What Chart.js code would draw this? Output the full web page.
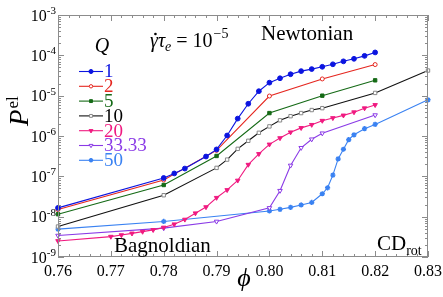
<!DOCTYPE html>
<html>
<head>
<meta charset="utf-8">
<script src="https://cdn.jsdelivr.net/npm/chart.js@4"></script>
<style>
  html, body { margin: 0; padding: 0; background: #fff; }
  #wrap { width: 443px; height: 297px; }
</style>
</head>
<body>
<div id="wrap"><canvas id="chart" width="443" height="297"></canvas></div>
<script>
// Q labels and colours
const qLabels = ['1', '2', '5', '10', '20', '33.33', '50'];
const qColors = ['#0b14e0', '#e5261f', '#156a16', '#111111', '#f01a80', '#8a3ae6', '#3a82f2'];

// phi values and P^el per series
const phi1 = [0.76, 0.78, 0.782, 0.784, 0.788, 0.79, 0.792, 0.794, 0.796, 0.798, 0.80, 0.802, 0.804, 0.806, 0.808, 0.81, 0.812, 0.814, 0.816, 0.818, 0.82];
const p1 = [1.65e-8, 9.1e-8, 1.18e-7, 1.56e-7, 3.1e-7, 4.65e-7, 1.03e-6, 2.7e-6, 6.3e-6, 1.29e-5, 2.1e-5, 2.7e-5, 3.4e-5, 4.06e-5, 4.56e-5, 5.2e-5, 6.0e-5, 7.1e-5, 8.2e-5, 9.7e-5, 1.18e-4];

const phi2 = [0.76, 0.78, 0.79, 0.80, 0.81, 0.82];
const p2 = [1.5e-8, 8.1e-8, 4.4e-7, 9.8e-6, 2.6e-5, 5.9e-5];

const phi5 = [0.76, 0.78, 0.79, 0.80, 0.81, 0.82];
const p5 = [1.15e-8, 6.1e-8, 3.2e-7, 3.7e-6, 1.0e-5, 2.4e-5];

const phi10 = [0.76, 0.78, 0.79, 0.792, 0.794, 0.796, 0.798, 0.80, 0.802, 0.804, 0.806, 0.808, 0.81, 0.82, 0.83];
const p10 = [5.7e-9, 3.4e-8, 1.62e-7, 2.6e-7, 4.8e-7, 7.6e-7, 1.2e-6, 1.73e-6, 2.45e-6, 3.1e-6, 3.7e-6, 4.4e-6, 4.9e-6, 1.17e-5, 4.2e-5];

const phi20 = [0.76, 0.77, 0.772, 0.774, 0.776, 0.778, 0.78, 0.782, 0.784, 0.786, 0.788, 0.79, 0.792, 0.794, 0.796, 0.798, 0.80, 0.802, 0.804, 0.806, 0.808, 0.81, 0.812, 0.814, 0.816, 0.818, 0.82];
const p20 = [2.5e-9, 3.2e-9, 3.5e-9, 3.85e-9, 4.25e-9, 4.7e-9, 5.4e-9, 6.5e-9, 8.5e-9, 1.22e-8, 1.73e-8, 2.95e-8, 4.6e-8, 7.9e-8, 1.95e-7, 3.6e-7, 6.2e-7, 8.9e-7, 1.24e-6, 1.59e-6, 1.9e-6, 2.4e-6, 2.8e-6, 3.25e-6, 3.9e-6, 4.9e-6, 5.9e-6];

const phi33 = [0.76, 0.78, 0.79, 0.80, 0.802, 0.804, 0.806, 0.808, 0.81, 0.82];
const p33 = [3.4e-9, 5.2e-9, 7.6e-9, 1.65e-8, 4.4e-8, 1.86e-7, 5.1e-7, 8.3e-7, 1.17e-6, 3.3e-6];

const phi50 = [0.76, 0.78, 0.80, 0.802, 0.804, 0.806, 0.808, 0.81, 0.811, 0.812, 0.813, 0.814, 0.815, 0.816, 0.818, 0.82, 0.83];
const p50 = [4.9e-9, 7.6e-9, 1.38e-8, 1.52e-8, 1.7e-8, 1.95e-8, 2.25e-8, 3.7e-8, 5.2e-8, 1.07e-7, 2.7e-7, 4.7e-7, 8.1e-7, 1.07e-6, 1.52e-6, 1.94e-6, 7.9e-6];

// axis ticks
const xTicks = [0.76, 0.77, 0.78, 0.79, 0.80, 0.81, 0.82, 0.83];
const yExps = [-3, -4, -5, -6, -7, -8, -9];

const SERIF = "'Liberation Serif', 'Times New Roman', serif";

function pts(xs, ys) {
  return xs.map((x, i) => ({ x: x, y: ys[i] }));
}

// marker styles: [pointStyle, radius, filled, rotation]
const markers = [
  ['circle', 2.4, true, 0],
  ['circle', 2, false, 0],
  ['rect', 2.4, true, 0],
  ['rect', 2.4, false, 0],
  ['triangle', 2.6, true, 180],
  ['triangle', 2.6, false, 180],
  ['star', 2.6, true, 0]
];
const seriesData = [pts(phi1, p1), pts(phi2, p2), pts(phi5, p5), pts(phi10, p10), pts(phi20, p20), pts(phi33, p33), pts(phi50, p50)];

const datasets = seriesData.map((d, i) => {
  const m = markers[i];
  const c = qColors[i];
  const pc = i === 3 ? '#888' : c;
  return {
    label: 'Q = ' + qLabels[i],
    data: d,
    borderColor: c,
    borderWidth: 1.1,
    pointStyle: m[0],
    pointRadius: m[1],
    pointRotation: m[3],
    pointBackgroundColor: m[2] ? pc : '#fff',
    pointBorderColor: pc,
    pointBorderWidth: m[0] === 'star' ? 1.4 : 1,
    tension: 0,
    clip: false
  };
});

function txt(ctx, s, x, y, font, color, align) {
  ctx.font = font;
  ctx.fillStyle = color || '#000';
  ctx.textAlign = align || 'left';
  ctx.fillText(s, x, y);
  return ctx.measureText(s).width;
}

const decor = {
  id: 'decor',
  afterDraw(chart) {
    const ctx = chart.ctx;
    const a = chart.chartArea;
    const xs = chart.scales.x, ys = chart.scales.y;
    ctx.save();
    ctx.textBaseline = 'alphabetic';

    // frame
    ctx.strokeStyle = '#8c8c8c';
    ctx.lineWidth = 1;
    ctx.strokeRect(a.left + 0.5, a.top + 0.5, a.right - a.left - 1, a.bottom - a.top - 1);

    // x ticks (inward, top and bottom)
    ctx.beginPath();
    for (let k = 0; k <= 35; k++) {
      const v = 0.76 + k * 0.002;
      const px = Math.round(xs.getPixelForValue(v)) + 0.5;
      const len = k % 5 === 0 ? 6 : 3;
      ctx.moveTo(px, a.bottom); ctx.lineTo(px, a.bottom - len);
      ctx.moveTo(px, a.top); ctx.lineTo(px, a.top + len);
    }
    // y ticks (log, inward, left and right)
    for (let e = -9; e <= -3; e++) {
      for (let m = 1; m <= 9; m++) {
        if (e === -3 && m > 1) break;
        const py = Math.round(ys.getPixelForValue(m * Math.pow(10, e))) + 0.5;
        const len = m === 1 ? 6 : 3;
        ctx.moveTo(a.left, py); ctx.lineTo(a.left + len, py);
        ctx.moveTo(a.right, py); ctx.lineTo(a.right - len, py);
      }
    }
    ctx.stroke();

    // x tick labels
    xTicks.forEach(v => {
      txt(ctx, v.toFixed(2), xs.getPixelForValue(v), 276, '16px ' + SERIF, '#000', 'center');
    });
    // y tick labels 10^e
    yExps.forEach(e => {
      const py = ys.getPixelForValue(Math.pow(10, e));
      const sup = '-' + Math.abs(e);
      ctx.font = '11px ' + SERIF;
      const sw = ctx.measureText(sup).width;
      ctx.font = '16px ' + SERIF;
      const bw = ctx.measureText('10').width;
      const x0 = a.left - 2 - sw - bw;
      txt(ctx, '10', x0, py + 5.5, '16px ' + SERIF, '#000');
      txt(ctx, sup, x0 + bw, py - 1, '11px ' + SERIF, '#000');
    });

    // axis titles
    txt(ctx, '\u03d5', 244, 286, 'italic 26px ' + SERIF, '#000', 'center');
    ctx.save();
    ctx.translate(28, 126);
    ctx.rotate(-Math.PI / 2);
    const pw = txt(ctx, 'P', 0, 0, 'italic 27px ' + SERIF, '#000');
    txt(ctx, 'el', pw + 1, -10, '17px ' + SERIF, '#000');
    ctx.restore();

    // annotations: shear rate
    let x = 150;
    const gw = txt(ctx, '\u03b3', x, 47, 'italic 20px ' + SERIF, '#000');
    ctx.beginPath();
    ctx.arc(x + gw / 2 + 1.5, 34, 1.3, 0, Math.PI * 2);
    ctx.fill();
    x += gw;
    x += txt(ctx, '\u03c4', x, 47, 'italic 20px ' + SERIF, '#000');
    x += txt(ctx, 'e', x, 51, 'italic 14px ' + SERIF, '#000');
    x += txt(ctx, ' = 10', x, 47, '20px ' + SERIF, '#000');
    txt(ctx, '\u22125', x + 1, 38, '14px ' + SERIF, '#000');

    txt(ctx, 'Newtonian', 261, 40, '21px ' + SERIF, '#000');
    txt(ctx, 'Bagnoldian', 114, 252, '21px ' + SERIF, '#000');
    const cw = txt(ctx, 'CD', 377, 250, '21px ' + SERIF, '#000');
    txt(ctx, 'rot', 377 + cw, 255, '14px ' + SERIF, '#000');

    // legend
    txt(ctx, 'Q', 102, 52, 'italic 20px ' + SERIF, '#000', 'center');
    qLabels.forEach((lab, i) => {
      const ly = 71.5 + i * 14.8;
      const ds = datasets[i];
      ctx.strokeStyle = qColors[i];
      ctx.lineWidth = 1.1;
      ctx.beginPath();
      ctx.moveTo(79, ly); ctx.lineTo(103, ly);
      ctx.stroke();
      ctx.fillStyle = ds.pointBackgroundColor;
      ctx.strokeStyle = ds.pointBorderColor;
      ctx.lineWidth = ds.pointBorderWidth;
      Chart.helpers.drawPoint(ctx, {
        pointStyle: ds.pointStyle,
        radius: ds.pointRadius * 0.85,
        rotation: ds.pointRotation,
        borderWidth: ds.pointBorderWidth
      }, 91, ly);
      ctx.textBaseline = 'middle';
      txt(ctx, lab, 104, ly + 1, '19px ' + SERIF, i === 3 ? '#000' : qColors[i]);
      ctx.textBaseline = 'alphabetic';
    });

    ctx.restore();
  }
};

new Chart(document.getElementById('chart'), {
  type: 'line',
  data: { datasets: datasets },
  options: {
    responsive: false,
    animation: false,
    parsing: true,
    layout: { padding: { left: 58, right: 15, top: 15, bottom: 40 } },
    plugins: { legend: { display: false }, tooltip: { enabled: false } },
    scales: {
      x: { type: 'linear', min: 0.76, max: 0.83, display: false },
      y: { type: 'logarithmic', min: 1e-9, max: 1e-3, display: false }
    }
  },
  plugins: [decor]
});
</script>
</body>
</html>
